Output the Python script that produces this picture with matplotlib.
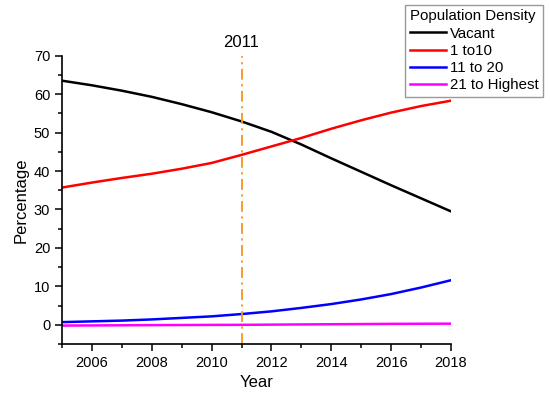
import matplotlib
matplotlib.use("Agg")
import matplotlib.pyplot as plt
from matplotlib.ticker import MultipleLocator

plt.rcParams['font.family'] = ['Liberation Sans', 'DejaVu Sans']

years = [2005, 2006, 2007, 2008, 2009, 2010, 2011, 2012, 2013, 2014, 2015, 2016, 2017, 2018]
vacant = [63.5, 62.3, 60.9, 59.3, 57.4, 55.3, 52.9, 50.2, 46.9, 43.3, 39.8, 36.3, 32.9, 29.5]
d1_10 = [35.7, 37.0, 38.2, 39.3, 40.6, 42.1, 44.2, 46.4, 48.6, 51.0, 53.2, 55.2, 56.9, 58.3]
d11_20 = [0.7, 0.9, 1.1, 1.4, 1.8, 2.2, 2.8, 3.5, 4.4, 5.4, 6.6, 8.0, 9.7, 11.6]
d21_hi = [-0.2, -0.16, -0.12, -0.08, -0.05, -0.02, 0.0, 0.05, 0.1, 0.15, 0.2, 0.25, 0.28, 0.3]
labels = ["Vacant", "1 to10", "11 to 20", "21 to Highest"]
colors = ["black", "red", "blue", "magenta"]
marker_year = 2011
xticks = [2006, 2008, 2010, 2012, 2014, 2016, 2018]

fig = plt.figure(figsize=(5.5, 3.95), dpi=100)
ax = fig.add_axes([0.1127, 0.129, 0.7073, 0.73])

for vals, lab, c in zip([vacant, d1_10, d11_20, d21_hi], labels, colors):
    ax.plot(years, vals, color=c, lw=1.8, label=lab)

ax.axvline(marker_year, color='#F7941D', lw=1.3, ls='-.', dashes=(6, 2.5, 1.2, 2.5))
ax.text(marker_year, 71.5, str(marker_year), ha='center', va='bottom', fontsize=12)

ax.set_xlim(2005, 2018)
ax.set_ylim(-5, 70)
ax.set_xticks(xticks)
ax.xaxis.set_minor_locator(MultipleLocator(1))
ax.set_yticks(range(0, 71, 10))
ax.yaxis.set_minor_locator(MultipleLocator(5))
ax.tick_params(which='major', direction='out', length=5, width=1.1, labelsize=10.5)
ax.tick_params(which='minor', direction='out', length=3, width=1.1)
for s in ['top', 'right']:
    ax.spines[s].set_visible(False)
for s in ['left', 'bottom']:
    ax.spines[s].set_linewidth(1.2)
ax.set_xlabel("Year", fontsize=12)
ax.set_ylabel("Percentage", fontsize=12)

leg = fig.legend(loc='upper right', bbox_to_anchor=(0.988, 0.988), borderaxespad=0,
                 title="Population Density", fontsize=10.8, title_fontsize=10.8,
                 handlelength=2.4, handletextpad=0.3, labelspacing=0.22,
                 borderpad=0.3, fancybox=False, framealpha=1, edgecolor='#999999',
                 alignment='left')
leg.get_frame().set_linewidth(1.0)

fig.savefig("out.png", dpi=100)
